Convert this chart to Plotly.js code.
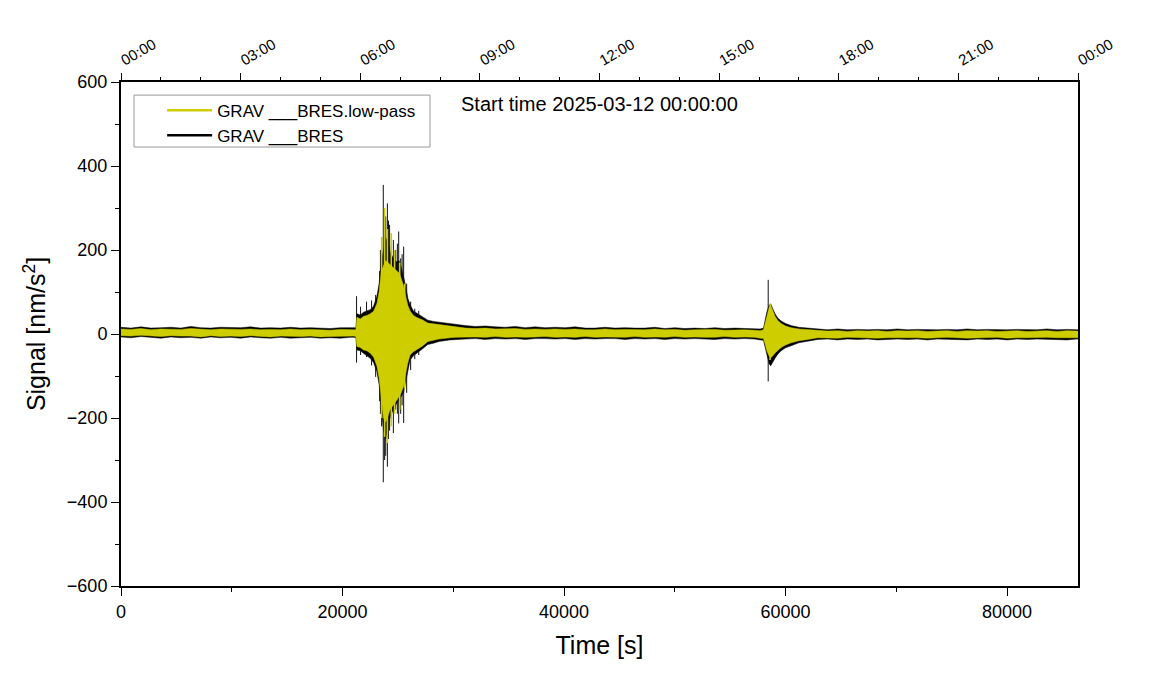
<!DOCTYPE html>
<html>
<head>
<meta charset="utf-8">
<script src="https://cdn.plot.ly/plotly-3.0.1.min.js"></script>
<style>html,body{margin:0;padding:0;background:#fff;}#chart{width:1151px;height:700px;}</style>
</head>
<body>
<div id="chart"></div>
<script>
// ---- Envelope of the signals (seconds since start, nm/s^2) ----
const envTime = [
  0, 900, 1800, 2700, 3600, 4500, 5400, 6300, 7200, 8100, 9000, 9900,
  10800, 11700, 12600, 13500, 14400, 15300, 16200, 17100, 18000, 18900, 19800, 20700,
  21000, 21200, 21300, 21600, 21900, 22200, 22500, 22800, 23100, 23300, 23500, 23700,
  23900, 24100, 24300, 24500, 24700, 24900, 25100, 25300, 25500, 25700, 25900, 26100,
  26400, 26800, 27200, 27700, 28200, 28700, 29200, 29700, 30200,
  31100, 32000, 32900, 33800, 34700, 35600, 36500, 37400, 38300, 39200, 40100, 41000,
  41900, 42800, 43700, 44600, 45500, 46400, 47300, 48200, 49100, 50000, 50900, 51800,
  52700, 53600, 54500, 55400, 56300, 57200,
  57700, 58000, 58150, 58300, 58500, 58650, 58850, 59050, 59300, 59600, 60000, 60500,
  61200, 62000,
  62900, 63800, 64700, 65600, 66500, 67400, 68300, 69200, 70100, 71000, 71900, 72800,
  73700, 74600, 75500, 76400, 77300, 78200, 79100, 80000, 80900, 81800, 82700, 83600,
  84500, 85400, 86300, 86400
];
const blackHigh = [
  16, 14, 17, 14, 15, 16, 14, 18, 15, 14, 16, 15,
  15, 17, 14, 15, 14, 16, 14, 15, 14, 13, 15, 14,
  14, 15, 48, 45, 52, 55, 58, 66, 90, 120, 175, 200,
  230, 215, 195, 185, 175, 172, 175, 160, 140, 115, 85, 70,
  55, 48, 42, 33, 30, 28, 26, 24, 22,
  20, 18, 19, 17, 16, 18, 15, 17, 15, 16, 15, 17,
  14, 14, 16, 14, 15, 14, 14, 16, 13, 15, 13, 14,
  13, 15, 13, 14, 13, 13,
  12, 14, 35, 52, 68, 72, 60, 48, 38, 31, 25, 20,
  16, 14,
  11, 10, 12, 10, 11, 10, 11, 10, 12, 10, 11, 10,
  10, 11, 10, 12, 10, 11, 10, 10, 11, 10, 10, 12,
  10, 11, 10, 10
];
const blackLow = [
  -7, -9, -6, -8, -10, -7, -9, -8, -10, -7, -9, -8,
  -10, -7, -9, -10, -8, -10, -9, -8, -10, -9, -10, -8,
  -8, -9, -38, -40, -48, -52, -58, -68, -90, -120, -175, -230,
  -250, -225, -200, -185, -175, -165, -158, -150, -140, -115, -85, -62,
  -52, -44, -36, -25, -22, -18, -16, -14, -13,
  -12, -11, -13, -11, -12, -11, -13, -11, -11, -12, -11, -13,
  -11, -12, -11, -11, -13, -11, -12, -11, -13, -11, -12, -11,
  -12, -13, -11, -12, -11, -12,
  -14, -15, -30, -48, -70, -76, -68, -58, -48, -40, -33, -28,
  -21, -17,
  -13, -12, -14, -12, -13, -12, -14, -13, -12, -13, -12, -14,
  -12, -12, -13, -14, -12, -13, -12, -14, -12, -13, -12, -12,
  -13, -14, -12, -12
];
const lowpassHigh = [
  12, 11, 13, 10, 12, 12, 11, 13, 11, 10, 12, 11,
  11, 12, 10, 11, 10, 12, 10, 11, 10, 9, 11, 10,
  10, 10, 40, 36, 42, 44, 48, 54, 72, 100, 150, 165,
  175, 170, 165, 158, 155, 150, 145, 132, 115, 90, 68, 55,
  44, 38, 34, 26, 24, 22, 20, 18, 16,
  14, 13, 14, 12, 12, 13, 11, 12, 11, 12, 11, 12,
  10, 10, 12, 10, 11, 10, 10, 12, 10, 11, 9, 10,
  10, 11, 9, 10, 10, 9,
  8, 10, 25, 45, 62, 69, 55, 42, 32, 25, 19, 15,
  12, 10,
  8, 7, 8, 6, 8, 7, 8, 6, 8, 7, 8, 6,
  7, 8, 6, 8, 7, 8, 6, 7, 8, 6, 7, 8,
  6, 8, 7, 7
];
const lowpassLow = [
  -4, -5, -3, -5, -6, -4, -5, -5, -7, -4, -6, -5,
  -6, -4, -5, -7, -5, -6, -6, -5, -7, -6, -6, -5,
  -5, -6, -30, -32, -38, -40, -46, -55, -76, -105, -155, -200,
  -210, -195, -180, -172, -165, -158, -150, -140, -125, -95, -68, -50,
  -42, -35, -29, -18, -15, -12, -10, -9, -8,
  -7, -7, -8, -6, -8, -7, -8, -7, -6, -8, -7, -8,
  -6, -8, -7, -7, -8, -6, -8, -7, -8, -6, -8, -7,
  -8, -8, -6, -8, -7, -8,
  -10, -11, -24, -40, -52, -57, -52, -45, -38, -32, -26, -21,
  -16, -13,
  -9, -9, -10, -8, -9, -9, -10, -9, -8, -9, -9, -10,
  -9, -8, -9, -10, -9, -9, -8, -10, -9, -9, -9, -8,
  -9, -10, -9, -9
];
// ---- Individual large swings of the raw signal (black) ----
const spikeTime = [21268, 21630, 22170, 22625, 22990, 23350, 23420, 23530, 23680, 23800,
  23900, 24050, 24150, 24250, 24400, 24590, 24800, 24950, 25070, 25250, 25380, 25520,
  25790, 26150, 26520, 26880, 58430];
const spikeTop = [90, 65, 77, 80, 93, 150, 200, 230, 355, 250,
  280, 311, 270, 260, 210, 224, 200, 215, 244, 180, 190, 208,
  120, 77, 60, 55, 129];
const spikeBottom = [-68, -50, -55, -75, -102, -160, -190, -220, -353, -300,
  -290, -316, -250, -230, -200, -236, -180, -190, -213, -190, -170, -212,
  -140, -86, -60, -50, -113];
// ---- Individual large swings of the low-pass signal (yellow) ----
const lowSpikeTime = [23530, 23800, 24050, 24400, 24700, 25160, 25610, 58600];
const lowSpikeTop = [230, 300, 250, 240, 200, 170, 120, 72];
const lowSpikeBottom = [-200, -245, -260, -220, -190, -180, -130, -62];

const seriesNames = ['GRAV ___BRES.low-pass', 'GRAV ___BRES'];
const startLabel = 'Start time 2025-03-12 00:00:00';
const BLACK = '#000000';
const YELLOW = '#cdcd00';

function band(hi, lo) {
  return {
    x: envTime.concat(envTime.slice().reverse()),
    y: hi.concat(lo.slice().reverse())
  };
}
function sticks(ts, tops, bottoms) {
  const x = [], y = [];
  ts.forEach((t, i) => { x.push(t, t, null); y.push(tops[i], bottoms[i], null); });
  return {x, y};
}
const bBand = band(blackHigh, blackLow);
const yBand = band(lowpassHigh, lowpassLow);
const bSticks = sticks(spikeTime, spikeTop, spikeBottom);
const ySticks = sticks(lowSpikeTime, lowSpikeTop, lowSpikeBottom);

const traces = [
  {x: bBand.x, y: bBand.y, type: 'scatter', mode: 'lines', fill: 'toself', fillcolor: BLACK,
   line: {color: BLACK, width: 0.5}, showlegend: false, hoverinfo: 'skip'},
  {x: bSticks.x, y: bSticks.y, type: 'scatter', mode: 'lines', line: {color: '#111', width: 1},
   showlegend: false, hoverinfo: 'skip', connectgaps: false},
  {x: yBand.x, y: yBand.y, type: 'scatter', mode: 'lines', fill: 'toself', fillcolor: YELLOW,
   line: {color: YELLOW, width: 0.5}, showlegend: false, hoverinfo: 'skip'},
  {x: ySticks.x, y: ySticks.y, type: 'scatter', mode: 'lines', line: {color: YELLOW, width: 1.6},
   showlegend: false, hoverinfo: 'skip', connectgaps: false},
  {x: [null], y: [null], type: 'scatter', mode: 'lines', name: seriesNames[0],
   line: {color: YELLOW, width: 2.5}},
  {x: [null], y: [null], type: 'scatter', mode: 'lines', name: seriesNames[1],
   line: {color: BLACK, width: 2.5}},
  {x: [null], y: [null], xaxis: 'x2', type: 'scatter', mode: 'lines', showlegend: false, hoverinfo: 'skip'}
];

const FONT = 'Liberation Sans, Arial, Helvetica, sans-serif';
const layout = {
  width: 1151, height: 700,
  margin: {l: 121, r: 73, t: 82, b: 114},
  paper_bgcolor: '#fff', plot_bgcolor: '#fff',
  font: {family: FONT, color: '#000', size: 18},
  showlegend: true,
  legend: {
    x: 0.043, y: 0.979, xanchor: 'left', yanchor: 'top',
    bgcolor: 'rgba(0,0,0,0)', borderwidth: 0,
    font: {family: FONT, size: 17, color: '#000'},
    itemwidth: 45, traceorder: 'normal', tracegroupgap: 0
  },
  shapes: [{
    type: 'rect', xref: 'paper', yref: 'paper',
    x0: 0.0136, x1: 0.3229, y0: 0.871, y1: 0.974,
    line: {color: '#999', width: 1}, fillcolor: '#fff', layer: 'below'
  }],
  xaxis: {
    range: [0, 86400], showgrid: false, zeroline: false,
    showline: true, linecolor: '#000', linewidth: 2, mirror: true,
    ticks: 'outside', ticklen: 8, tickwidth: 1, tickcolor: '#000',
    tickmode: 'linear', tick0: 0, dtick: 20000, tickformat: 'd',
    minor: {dtick: 10000, ticklen: 4, tickwidth: 1, tickcolor: '#000', ticks: 'outside'},
    tickfont: {size: 18},
    title: {text: 'Time [s]', font: {size: 25}, standoff: 16}
  },
  xaxis2: {
    type: 'date', overlaying: 'x', side: 'top', anchor: 'y',
    range: ['2025-03-12 00:00:00', '2025-03-13 00:00:00'],
    showgrid: false, zeroline: false, showline: false,
    ticks: 'outside', ticklen: 8, tickwidth: 1, tickcolor: '#000',
    tick0: '2025-03-12 00:00:00', dtick: 10800000, tickformat: '%H:%M',
    minor: {dtick: 3600000, ticklen: 4, tickwidth: 1, tickcolor: '#000', ticks: 'outside'},
    tickangle: -30, tickfont: {size: 15}
  },
  yaxis: {
    range: [-600, 600], showgrid: false, zeroline: false,
    showline: true, linecolor: '#000', linewidth: 2, mirror: true,
    ticks: 'outside', ticklen: 8, tickwidth: 1, tickcolor: '#000',
    tickmode: 'linear', tick0: 0, dtick: 200,
    minor: {dtick: 100, ticklen: 4, tickwidth: 1, tickcolor: '#000', ticks: 'outside'},
    tickformat: 'd', tickfont: {size: 18},
    title: {text: 'Signal [nm/s<sup>2</sup>]', font: {size: 25}, standoff: 14}
  },
  annotations: [{
    text: startLabel, xref: 'paper', yref: 'paper', x: 0.5005, y: 0.956,
    xanchor: 'center', yanchor: 'middle', showarrow: false,
    font: {family: FONT, size: 20, color: '#000'}
  }]
};
Plotly.newPlot('chart', traces, layout, {displayModeBar: false, staticPlot: true});
</script>
</body>
</html>
